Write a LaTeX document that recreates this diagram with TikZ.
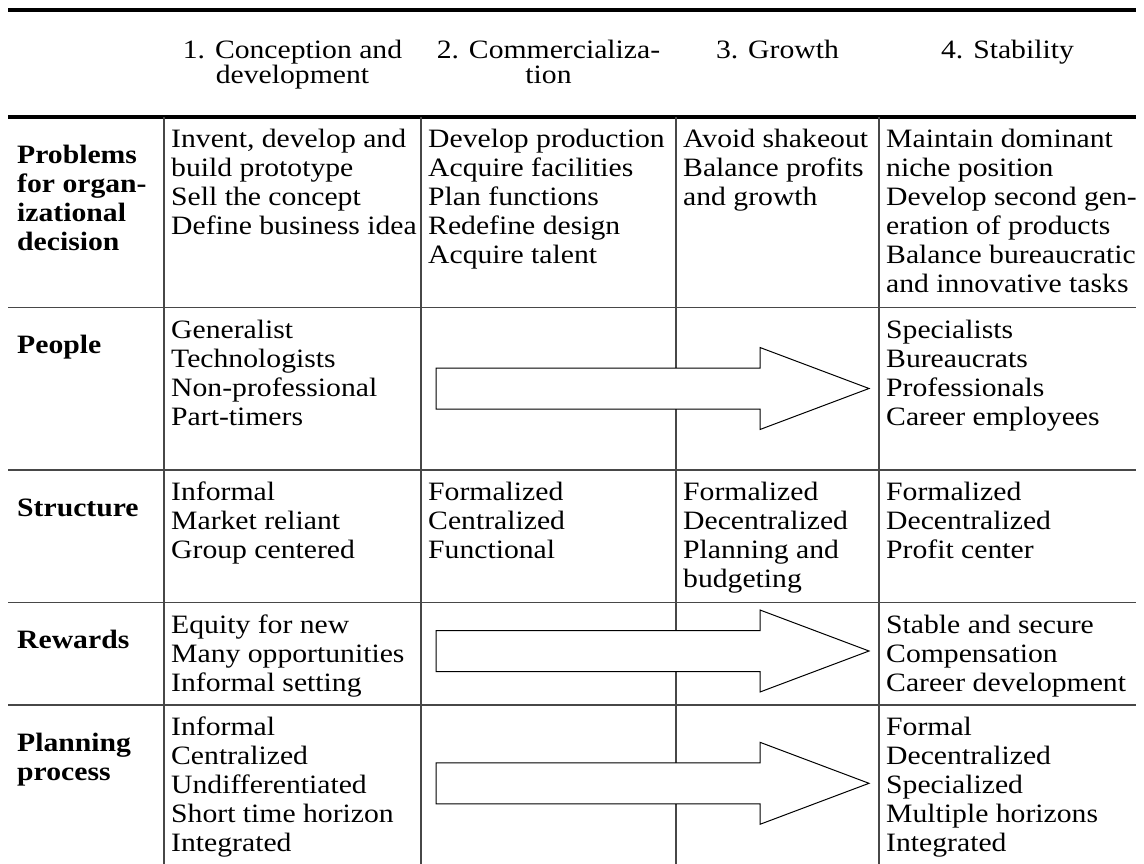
\documentclass[tikz,border=0pt]{standalone}
\usepackage{fontspec}
\setmainfont{Liberation Serif}[FakeStretch=1.12]
\newcommand\cellfont{\fontsize{26.5}{29}\selectfont}
\newcommand\labelfont{\fontsize{26.5}{29}\selectfont\bfseries}
% stage headings sit on a tighter line pitch
\newcommand\stagefont{\fontsize{26.5}{25}\selectfont\lineskiplimit=-50pt}
% fixed first-line height so every cell starts on the same baseline
\newcommand\fl{\rule{0pt}{20pt}}
\tikzset{
  thickrule/.style={line width=4pt, draw=black},
  thinrule/.style={line width=1.4pt, draw=black!72},
  cell/.style={anchor=north west, inner sep=0pt, align=left, font=\cellfont},
  rowlabel/.style={anchor=north west, inner sep=0pt, align=left, font=\labelfont},
  colhead/.style={anchor=north, inner sep=0pt, align=center, font=\stagefont},
  flowshape/.style={draw=black, line width=1pt, fill=white, line join=miter},
  flowarrow/.pic={
    \draw[flowshape] (0,20.5) -- (324,20.5) -- (324,41) -- (433,0)
      -- (324,-41) -- (324,-20.5) -- (0,-20.5) -- cycle;
  }
}
\begin{document}
\begin{tikzpicture}[x=1pt, y=1pt]
\useasboundingbox (0,0) rectangle (1144,-864);

% horizontal rules
\draw[thickrule] (8,-10) -- (1136,-10);
\draw[thickrule] (8,-117) -- (1136,-117);
\foreach \y in {307.7, 470, 602.7, 705}
  \draw[thinrule] (8,-\y) -- (1136,-\y);

% column separators
\foreach \x in {164, 421, 676, 879}
  \draw[thinrule] (\x,-117) -- (\x,-864);

% transition arrows across the middle stages
\pic at (436,-388.5) {flowarrow};
\pic at (436,-651) {flowarrow};
\pic at (436,-783.3) {flowarrow};

% stage headings
\node[colhead] (h1) at (292.5,-38) {\fl 1. Conception and\\development};
\node[colhead] (h2) at (548.5,-38) {\fl 2. Commercializa-\\tion};
\node[colhead] (h3) at (777.5,-38) {\fl 3. Growth};
\node[colhead] (h4) at (1007.5,-38) {\fl 4. Stability};

% row labels
\node[rowlabel] (lprob) at (17,-143) {\fl Problems\\for organ-\\izational\\decision};
\node[rowlabel] (lpeop) at (17,-333.7) {\fl People};
\node[rowlabel] (lstru) at (17,-496) {\fl Structure};
\node[rowlabel] (lrewa) at (17,-628.7) {\fl Rewards};
\node[rowlabel] (lplan) at (17,-731) {\fl Planning\\process};

% problems for organizational decision
\node[cell] (prob1) at (171,-127.5) {\fl Invent, develop and\\build prototype\\Sell the concept\\Define business idea};
\node[cell] (prob2) at (428,-127.5) {\fl Develop production\\Acquire facilities\\Plan functions\\Redefine design\\Acquire talent};
\node[cell] (prob3) at (683,-127.5) {\fl Avoid shakeout\\Balance profits\\and growth};
\node[cell] (prob4) at (886,-127.5) {\fl Maintain dominant\\niche position\\Develop second gen-\\eration of products\\Balance bureaucratic\\and innovative tasks};

% people
\node[cell] (peop1) at (171,-318.2) {\fl Generalist\\Technologists\\Non-professional\\Part-timers};
\node[cell] (peop4) at (886,-318.2) {\fl Specialists\\Bureaucrats\\Professionals\\Career employees};

% structure
\node[cell] (stru1) at (171,-480.5) {\fl Informal\\Market reliant\\Group centered};
\node[cell] (stru2) at (428,-480.5) {\fl Formalized\\Centralized\\Functional};
\node[cell] (stru3) at (683,-480.5) {\fl Formalized\\Decentralized\\Planning and\\budgeting};
\node[cell] (stru4) at (886,-480.5) {\fl Formalized\\Decentralized\\Profit center};

% rewards
\node[cell] (rewa1) at (171,-613.2) {\fl Equity for new\\Many opportunities\\Informal setting};
\node[cell] (rewa4) at (886,-613.2) {\fl Stable and secure\\Compensation\\Career development};

% planning process
\node[cell] (plan1) at (171,-715.5) {\fl Informal\\Centralized\\Undifferentiated\\Short time horizon\\Integrated};
\node[cell] (plan4) at (886,-715.5) {\fl Formal\\Decentralized\\Specialized\\Multiple horizons\\Integrated};
\end{tikzpicture}
\end{document}
